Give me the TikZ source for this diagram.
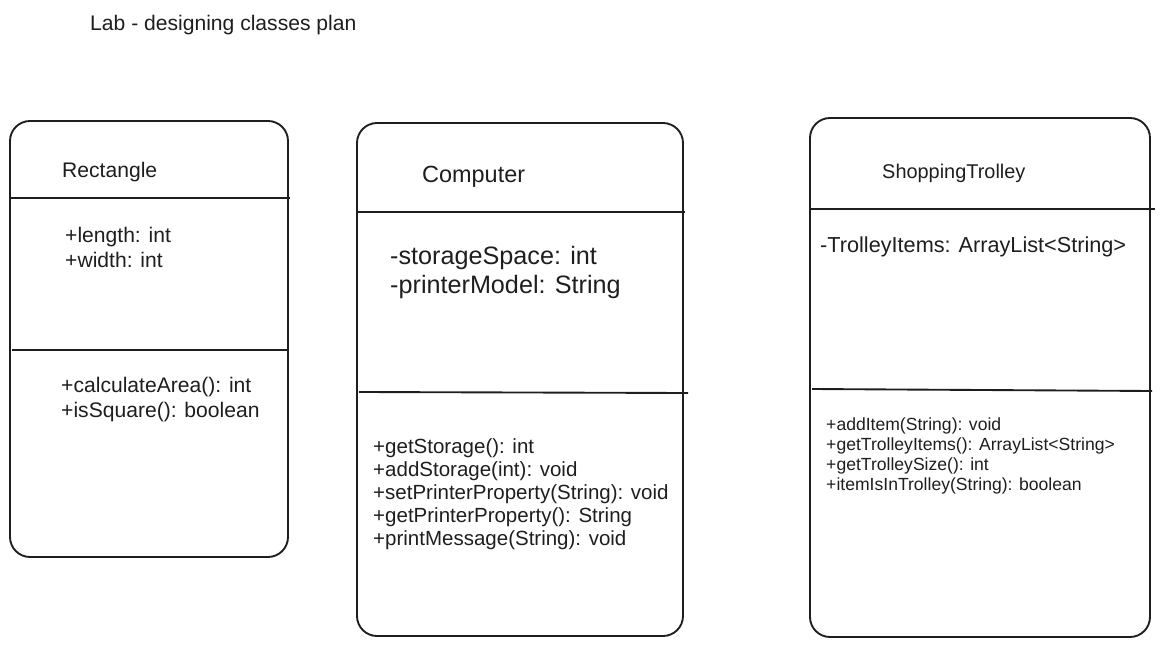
\documentclass[tikz,border=0pt]{standalone}
\usepackage{fontspec}
\setmainfont{Liberation Sans}
\definecolor{ink}{HTML}{1E1E1E}
\tikzset{
  classbox/.style={draw=ink, line width=1.6pt, rounded corners=0.6cm},
  divider/.style={draw=ink, line width=1.6pt},
  txt/.style={anchor=base west, inner sep=0pt, text=ink}
}
\begin{document}
\begin{tikzpicture}[x=0.03cm, y=-0.03cm]
      \useasboundingbox (0,0) rectangle (1163,646);
      \node[txt, font=\fontsize{18}{22}\selectfont] (title) at (90,31) {Lab - designing classes plan};
      % Rectangle
      \draw[classbox] (10,121) rectangle (288,557);
      \coordinate (rA) at (11,198);
      \coordinate (rB) at (290,198);
      \coordinate (rC) at (12,350);
      \coordinate (rD) at (288,350);
      \draw[divider] (rA) -- (rB);
      \draw[divider] (rC) -- (rD);
      \begin{scope}[font=\fontsize{18}{22}\selectfont]
        \node[txt] (rname) at (62,177) {Rectangle};
        \node[txt] (rattr1) at (65,242) {+length: int};
        \node[txt] (rattr2) at (65,267) {+width: int};
        \node[txt] (rop1) at (61,392) {+calculateArea(): int};
        \node[txt] (rop2) at (61,417) {+isSquare(): boolean};
      \end{scope}
      % Computer
      \draw[classbox] (357,123) rectangle (683,636);
      \coordinate (cA) at (358,212);
      \coordinate (cB) at (685,212);
      \coordinate (cC) at (359,392);
      \coordinate (cD) at (688,393);
      \draw[divider] (cA) -- (cB);
      \draw[divider] (cC) -- (cD);
      \node[txt, font=\fontsize{20}{24}\selectfont] (cname) at (422,183) {Computer};
      \begin{scope}[font=\fontsize{21.5}{26}\selectfont]
        \node[txt] (cattr1) at (390,264) {-storageSpace: int};
        \node[txt] (cattr2) at (390,293) {-printerModel: String};
      \end{scope}
      \begin{scope}[font=\fontsize{17.5}{21}\selectfont]
        \node[txt] (cop1) at (373,453) {+getStorage(): int};
        \node[txt] (cop2) at (373,476) {+addStorage(int): void};
        \node[txt] (cop3) at (373,499) {+setPrinterProperty(String): void};
        \node[txt] (cop4) at (373,522) {+getPrinterProperty(): String};
        \node[txt] (cop5) at (373,545) {+printMessage(String): void};
      \end{scope}
      % ShoppingTrolley
      \draw[classbox] (810,118) rectangle (1150,637);
      \coordinate (sA) at (811,209);
      \coordinate (sB) at (1155,209);
      \coordinate (sC) at (812,389);
      \coordinate (sD) at (1152,391);
      \draw[divider] (sA) -- (sB);
      \draw[divider] (sC) -- (sD);
      \node[txt, font=\fontsize{17}{20}\selectfont] (sname) at (882,178) {ShoppingTrolley};
      \node[txt, font=\fontsize{18.5}{22}\selectfont] (sattr1) at (820,252) {-TrolleyItems: ArrayList<String>};
      \begin{scope}[font=\fontsize{15}{18}\selectfont]
        \node[txt] (sop1) at (826,430) {+addItem(String): void};
        \node[txt] (sop2) at (826,450) {+getTrolleyItems(): ArrayList<String>};
        \node[txt] (sop3) at (826,470) {+getTrolleySize(): int};
        \node[txt] (sop4) at (826,490) {+itemIsInTrolley(String): boolean};
      \end{scope}
\end{tikzpicture}
\end{document}
